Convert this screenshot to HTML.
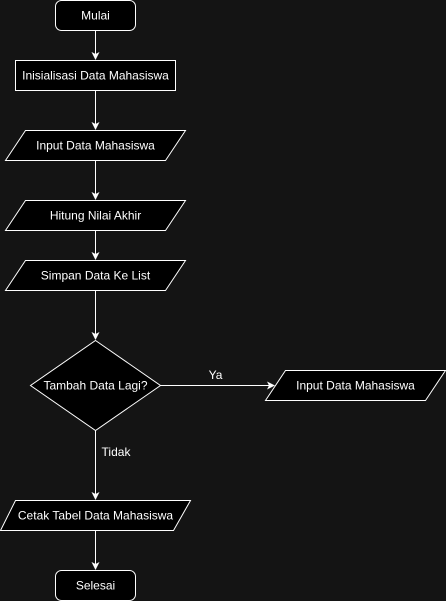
<!DOCTYPE html>
<html><head><meta charset="utf-8"><style>
html,body{margin:0;padding:0;background:#141414;}
svg{display:block}
text{font-family:"Liberation Sans",Arial,sans-serif;font-size:12px;fill:#fff;}
</style></head><body>
<svg width="446" height="601" viewBox="0 0 446 601">
<defs><marker id="a" markerWidth="8" markerHeight="8" refX="7" refY="4" orient="auto" markerUnits="userSpaceOnUse"><path d="M0,0 L8,4 L0,8 L2,4 Z" fill="#fff"/></marker></defs>
<g stroke="#fff" stroke-width="1" fill="none">
<line x1="95.5" y1="30" x2="95.5" y2="59" marker-end="url(#a)"/>
<line x1="95.5" y1="90" x2="95.5" y2="129" marker-end="url(#a)"/>
<line x1="95.5" y1="160" x2="95.5" y2="199" marker-end="url(#a)"/>
<line x1="95.5" y1="230" x2="95.5" y2="259" marker-end="url(#a)"/>
<line x1="95.5" y1="290" x2="95.5" y2="339" marker-end="url(#a)"/>
<line x1="160" y1="385.5" x2="274" y2="385.5" marker-end="url(#a)"/>
<line x1="95.5" y1="430" x2="95.5" y2="499" marker-end="url(#a)"/>
<line x1="95.5" y1="530" x2="95.5" y2="569" marker-end="url(#a)"/>
</g>
<g stroke="#fff" stroke-width="1" fill="#000">
<rect x="55.5" y="0.5" width="80" height="30" rx="6"/>
<rect x="15.5" y="60.5" width="160" height="30"/>
<polygon points="25.5,130.5 185.5,130.5 165.5,160.5 5.5,160.5"/>
<polygon points="25.5,200.5 185.5,200.5 165.5,230.5 5.5,230.5"/>
<polygon points="25.5,260.5 185.5,260.5 165.5,290.5 5.5,290.5"/>
<polygon points="95.5,340.5 160.5,385.5 95.5,430.5 30.5,385.5"/>
<polygon points="285.5,370.5 445.5,370.5 425.5,400.5 265.5,400.5"/>
<polygon points="15.5,500.5 190.5,500.5 173.5,530.5 0.5,530.5"/>
<rect x="55.5" y="570.5" width="80" height="30" rx="6"/>
</g>
<g text-anchor="middle">
<text x="95.5" y="19.5">Mulai</text>
<text x="95.5" y="79.5">Inisialisasi Data Mahasiswa</text>
<text x="95.5" y="149.5">Input Data Mahasiswa</text>
<text x="95.5" y="219.5">Hitung Nilai Akhir</text>
<text x="95.5" y="279.5">Simpan Data Ke List</text>
<text x="95.5" y="389.5">Tambah Data Lagi?</text>
<text x="355.5" y="389.5">Input Data Mahasiswa</text>
<text x="95.5" y="519.5">Cetak Tabel Data Mahasiswa</text>
<text x="95.5" y="589.5">Selesai</text>
<text x="215.5" y="379">Ya</text>
<text x="116" y="456">Tidak</text>
</g>
</svg>
</body></html>
